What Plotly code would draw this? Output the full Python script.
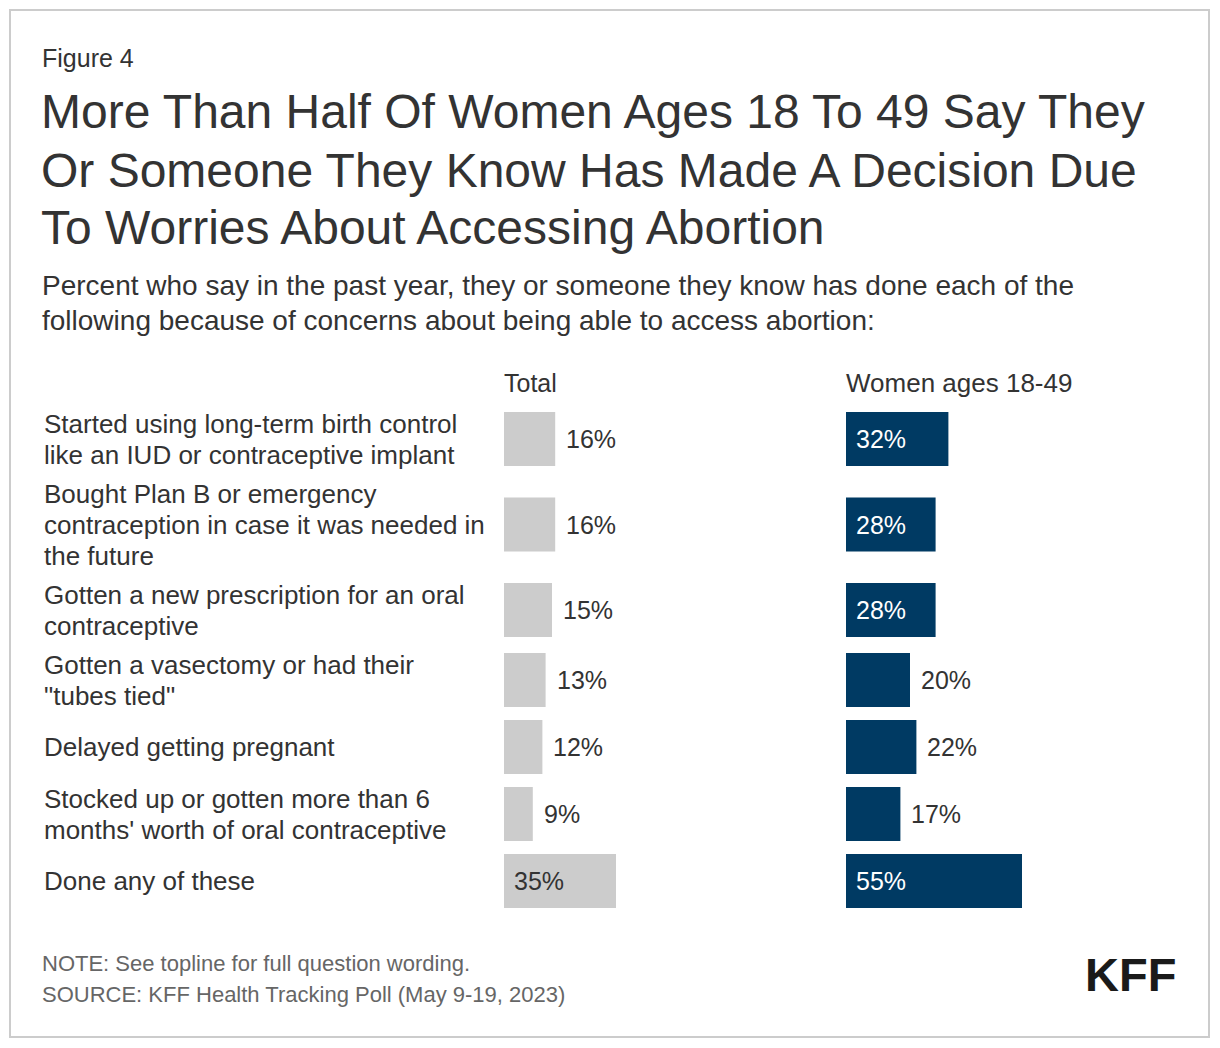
import plotly.graph_objects as go

# ---------------- data ----------------
categories = [
    "Started using long-term birth control<br>like an IUD or contraceptive implant",
    "Bought Plan B or emergency<br>contraception in case it was needed in<br>the future",
    "Gotten a new prescription for an oral<br>contraceptive",
    "Gotten a vasectomy or had their<br>\"tubes tied\"",
    "Delayed getting pregnant",
    "Stocked up or gotten more than 6<br>months' worth of oral contraceptive",
    "Done any of these",
]
total_values = [16, 16, 15, 13, 12, 9, 35]
women_values = [32, 28, 28, 20, 22, 17, 55]
series_names = ["Total", "Women ages 18-49"]

figure_label = "Figure 4"
title_lines = [
    "More Than Half Of Women Ages 18 To 49 Say They",
    "Or Someone They Know Has Made A Decision Due",
    "To Worries About Accessing Abortion",
]
subtitle_lines = [
    "Percent who say in the past year, they or someone they know has done each of the",
    "following because of concerns about being able to access abortion:",
]
note_lines = [
    "NOTE: See topline for full question wording.",
    "SOURCE: KFF Health Tracking Poll (May 9-19, 2023)",
]
logo_text = "KFF"

# ---------------- layout constants ----------------
W, H = 1220, 1048
FONT = "Liberation Sans, Arial, Helvetica, sans-serif"
TEXT = "#333333"
GRAY_BAR = "#cccccc"
NAVY = "#003a63"
PX_PER_PCT = 3.2
BAR_H = 54
ROWS_TOP = 404
LABEL_LINE = 31
P1_LEFT, P1_RIGHT = 504, 830
P2_LEFT, P2_RIGHT = 846, 1200


def px_x(x):
    return x / W


def px_y(y):
    return 1 - y / H


# row positions derived from the number of label lines
label_lines = [c.split("<br>") for c in categories]
row_heights = [max(64, LABEL_LINE * len(ls) + 8) for ls in label_lines]
centers = []
acc = ROWS_TOP
for h in row_heights:
    centers.append(acc + h / 2)
    acc += h

fig = go.Figure()
fig.add_trace(go.Bar(
    x=total_values, y=centers, orientation="h", width=BAR_H,
    marker=dict(color=GRAY_BAR, line=dict(width=0)),
    xaxis="x", yaxis="y", name=series_names[0], hoverinfo="skip",
))
fig.add_trace(go.Bar(
    x=women_values, y=centers, orientation="h", width=BAR_H,
    marker=dict(color=NAVY, line=dict(width=0)),
    xaxis="x2", yaxis="y", name=series_names[1], hoverinfo="skip",
))

annotations = []


def ann(text, x, y, size, color=TEXT, xanchor="left", yanchor="middle", **kw):
    annotations.append(dict(
        text=text, x=px_x(x), y=px_y(y), xref="paper", yref="paper",
        xanchor=xanchor, yanchor=yanchor, showarrow=False, align="left",
        font=dict(family=FONT, size=size, color=color), **kw))


ann(figure_label, 40, 58, 25)
for i, t in enumerate(title_lines):
    ann(t, 39, 112 + 58 * i, 48)
for i, t in enumerate(subtitle_lines):
    ann(t, 40, 285 + 35 * i, 28)
ann(series_names[0], P1_LEFT - 2, 383, 25)
ann(series_names[1], P2_LEFT - 2, 383, 26)
for i, t in enumerate(note_lines):
    ann(t, 40, 963 + 31 * i, 22, color="#666666")
ann("<b>" + logo_text + "</b>", 1130, 974, 47, color="#1a1a1a", xanchor="center")

# category labels, one annotation per line for exact line spacing
for ls, yc in zip(label_lines, centers):
    n = len(ls)
    for i, line in enumerate(ls):
        annotations.append(dict(
            text=line, x=px_x(42), xref="paper",
            y=yc + (i - (n - 1) / 2) * LABEL_LINE, yref="y",
            xanchor="left", yanchor="middle", showarrow=False, align="left",
            font=dict(family=FONT, size=26, color=TEXT)))

# value labels
INSIDE_MIN = 25
for axis, vals, inside_color in (("x", total_values, TEXT), ("x2", women_values, "#ffffff")):
    for v, yc in zip(vals, centers):
        inside = v >= INSIDE_MIN
        annotations.append(dict(
            text=f"{v}%", x=0 if inside else v, xref=axis, y=yc, yref="y",
            xanchor="left", yanchor="middle", showarrow=False,
            xshift=8 if inside else 9,
            font=dict(family=FONT, size=25, color=inside_color if inside else TEXT)))

fig.update_layout(
    width=W, height=H, autosize=False,
    margin=dict(l=0, r=0, t=0, b=0, pad=0),
    paper_bgcolor="white", plot_bgcolor="white",
    showlegend=False, barmode="overlay",
    xaxis=dict(domain=[px_x(P1_LEFT), px_x(P1_RIGHT)],
               range=[0, (P1_RIGHT - P1_LEFT) / PX_PER_PCT],
               visible=False, anchor="y", fixedrange=True),
    xaxis2=dict(domain=[px_x(P2_LEFT), px_x(P2_RIGHT)],
                range=[0, (P2_RIGHT - P2_LEFT) / PX_PER_PCT],
                visible=False, anchor="y", fixedrange=True),
    yaxis=dict(domain=[0, 1], range=[H, 0], visible=False, fixedrange=True),
    annotations=annotations,
    shapes=[dict(type="rect", xref="paper", yref="paper",
                 x0=px_x(10), x1=px_x(1209), y0=px_y(1037), y1=px_y(10),
                 line=dict(color="#cccccc", width=2), fillcolor="rgba(0,0,0,0)",
                 layer="below")],
)

fig.write_html("out.html", config={"displayModeBar": False},
               post_script="document.body.style.margin='0';document.body.style.overflow='hidden';")
